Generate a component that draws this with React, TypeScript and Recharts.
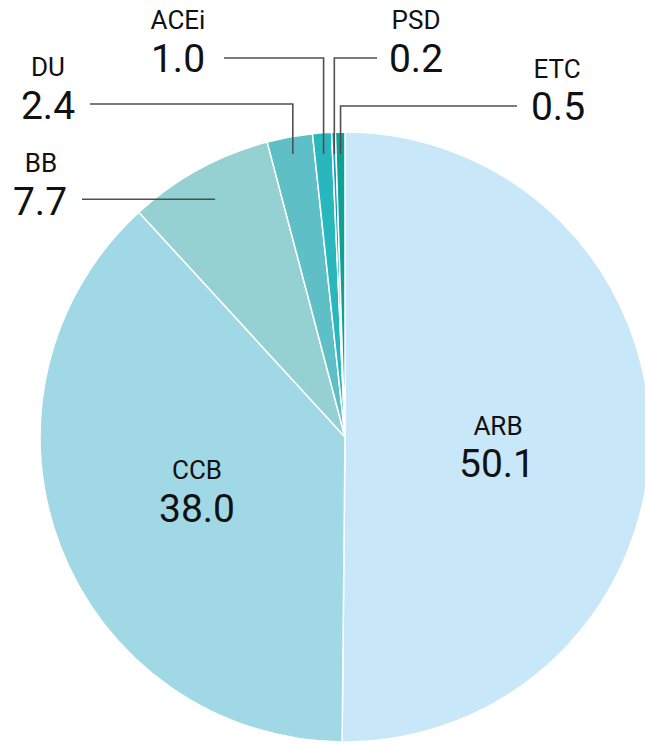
import { Cell, Pie, PieChart } from "recharts";

const drugNames = ["ARB", "CCB", "BB", "DU", "ACEi", "PSD", "ETC"];
const shares = [50.1, 38.0, 7.7, 2.4, 1.0, 0.2, 0.5];
const sliceColors = ["#c8e8f9", "#a1d8e5", "#95d1d2", "#5fbfc7", "#28b7bd", "#1a9dc2", "#0fa097"];

const data = drugNames.map((name, i) => ({ name, value: shares[i] }));

const RADIAN = Math.PI / 180;
const FONT = "Roboto, 'Noto Sans', sans-serif";

// label placement, offsets from the pie centre
type Spot = {
  name: [number, number];
  value: [number, number];
  endY?: number; // leader starts where the mid-angle ray crosses this y
  endR?: number; // ...or at this radius
  elbowY?: number;
  lineX?: number;
};

const spots: Record<string, Spot> = {
  ARB: { name: [153, -2], value: [152, 40] },
  CCB: { name: [-148, 42], value: [-148, 85] },
  BB: { name: [-304, -265], value: [-305, -222], endR: 271, lineX: -263 },
  DU: { name: [-297, -361], value: [-297, -318], endY: -283, elbowY: -333, lineX: -255 },
  ACEi: { name: [-167, -408], value: [-167, -365], endY: -283, elbowY: -379, lineX: -121 },
  PSD: { name: [71, -408], value: [71, -365], endY: -283, elbowY: -379, lineX: 32 },
  ETC: { name: [212, -359], value: [213, -317], endY: -283, elbowY: -331, lineX: 172 },
};

const renderLabel = (props: any) => {
  const { cx, cy, midAngle, name, value } = props;
  const s = spots[name];
  if (!s) return null;
  const cos = Math.cos(-midAngle * RADIAN);
  const sin = Math.sin(-midAngle * RADIAN);
  let line = null;
  if (s.lineX !== undefined) {
    let ex: number, ey: number;
    if (s.endR !== undefined) {
      ex = cx + s.endR * cos;
      ey = cy + s.endR * sin;
    } else {
      const t = (s.endY as number) / sin;
      ex = cx + t * cos;
      ey = cy + (s.endY as number);
    }
    const elbowY = s.elbowY !== undefined ? cy + s.elbowY : ey;
    const pts = `${ex},${ey} ${ex},${elbowY} ${cx + s.lineX},${elbowY}`;
    line = <polyline points={pts} fill="none" stroke="#505050" strokeWidth={1.6} />;
  }
  return (
    <g>
      {line}
      <text
        x={cx + s.name[0]}
        y={cy + s.name[1]}
        textAnchor="middle"
        fontSize={26}
        fill="#111"
        fontFamily={FONT}
      >
        {name}
      </text>
      <text
        x={cx + s.value[0]}
        y={cy + s.value[1]}
        textAnchor="middle"
        fontSize={39}
        fill="#111"
        fontFamily={FONT}
      >
        {value.toFixed(1)}
      </text>
    </g>
  );
};

export default function App() {
  return (
    <div style={{ position: "absolute", left: 0, top: 0, width: 645, height: 744, background: "#fff" }}>
      <PieChart width={645} height={744} margin={{ top: 0, right: 0, bottom: 0, left: 0 }}>
        <Pie
          data={data}
          dataKey="value"
          nameKey="name"
          cx={345}
          cy={437}
          outerRadius={305}
          startAngle={90}
          endAngle={-270}
          stroke="#fff"
          strokeWidth={1.5}
          label={renderLabel}
          labelLine={false}
          isAnimationActive={false}
        >
          {data.map((d, i) => (
            <Cell key={d.name} fill={sliceColors[i]} />
          ))}
        </Pie>
      </PieChart>
    </div>
  );
}
